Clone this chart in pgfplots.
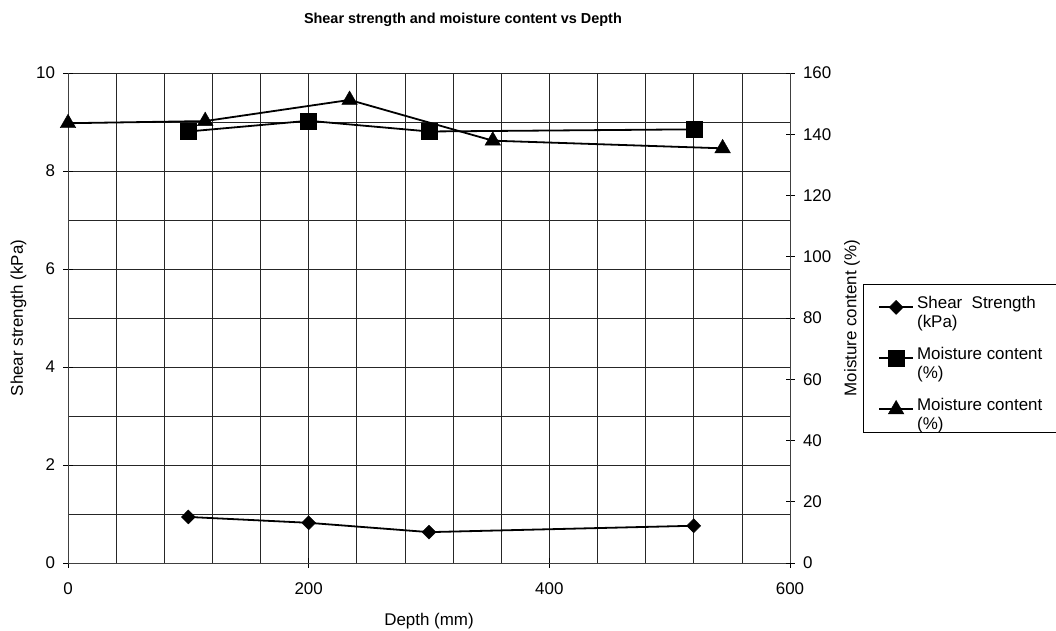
\documentclass[border=0pt]{standalone}
\usepackage{fontspec}
\setmainfont{Liberation Sans}
\usepackage{pgfplots}
\pgfplotsset{compat=1.18}
\begin{document}
\begin{tikzpicture}
\pgfplotsset{
  every axis/.append style={font=\fontsize{17}{21}\selectfont},
  /pgf/number format/assume math mode=true,
  myaxis/.style={
    at={(68bp,68bp)}, anchor=south west,
    scale only axis, width=722bp, height=490bp,
    xmin=0, xmax=600, clip=false,
    axis line style={black!75, line width=1bp},
    major tick length=9bp, minor tick length=0pt,
    tick align=center,
    tick style={black, line width=0.8bp},
  },
  legimg/.style={legend image code/.code={
    \draw[mark repeat=2,mark phase=2,##1,line width=2bp] plot coordinates {(0bp,0bp)(17bp,0bp)(34bp,0bp)};}},
}
\begin{axis}[myaxis,
  ymin=0, ymax=10,
  axis x line*=bottom, axis y line*=left,
  xtick={0,200,400,600}, minor xtick={40,80,...,560},
  ytick={0,2,...,10}, minor ytick={1,3,...,9},
  xticklabel style={yshift=-12bp},
  yticklabel style={xshift=-5bp},
  grid=both,
  grid style={black!85, line width=0.7bp},
  minor grid style={black!85, line width=0.7bp},
  title={\bfseries\fontsize{14.5}{18}\selectfont Shear strength and moisture content vs Depth},
  title style={at={(axis description cs:0.547,1.096)}, anchor=center},
  xlabel={Depth (mm)},
  xlabel style={at={(axis description cs:0.5,-0.118)}, anchor=center},
  ylabel={Shear strength (kPa)},
  ylabel style={at={(axis description cs:-0.0686,0.5)}, anchor=center},
]
\addplot[black, line width=1.8bp, mark=diamond*, mark size=7bp, mark options={xscale=1.33, solid, line width=0.4bp}]
  coordinates {(100,0.94) (200,0.82) (300,0.63) (520,0.76)};
\end{axis}
\begin{axis}[myaxis,
  ymin=0, ymax=160,
  axis x line=none, axis y line*=right,
  ytick={0,20,...,160},
  yticklabel style={xshift=5bp},
  ylabel={Moisture content (\%)},
  ylabel style={at={(axis description cs:1.086,0.5)}, anchor=center, rotate=0},
  legend style={at={(axis description cs:1.101,0.569)}, anchor=north west,
    draw=black, inner xsep=15bp, inner ysep=0bp,
    row sep=5bp, font=\fontsize{17}{19}\selectfont,
    nodes={text depth=22bp, text height=24bp, inner ysep=0bp, inner xsep=3bp}},
  legend cell align=left, legimg,
  legend image post style={line width=2bp},
]
\addlegendimage{black, line width=1.8bp, mark=diamond*, mark size=7bp, mark options={xscale=1.33, solid, line width=0.4bp}}
\addlegendentry{\parbox[t]{150bp}{Shear\ \ Strength\\(kPa)}}
\addplot[black, line width=1.8bp, mark=square*, mark size=8bp, mark options={line width=0.4bp}]
  coordinates {(100,140.9) (200,144.4) (300,140.9) (520,141.6)};
\addlegendentry{\parbox[t]{150bp}{Moisture content\\(\%)}}
\addplot[black, line width=1.8bp, mark=triangle*, mark size=9bp, mark options={line width=0.4bp}]
  coordinates {(0,143.6) (114,144.3) (234,151.2) (353,137.9) (544,135.4)};
\addlegendentry{\parbox[t]{150bp}{Moisture content\\(\%)}}
\end{axis}
\pgfresetboundingbox
\path[use as bounding box] (0,0) rectangle (1056bp,631bp);
\end{tikzpicture}
\end{document}
